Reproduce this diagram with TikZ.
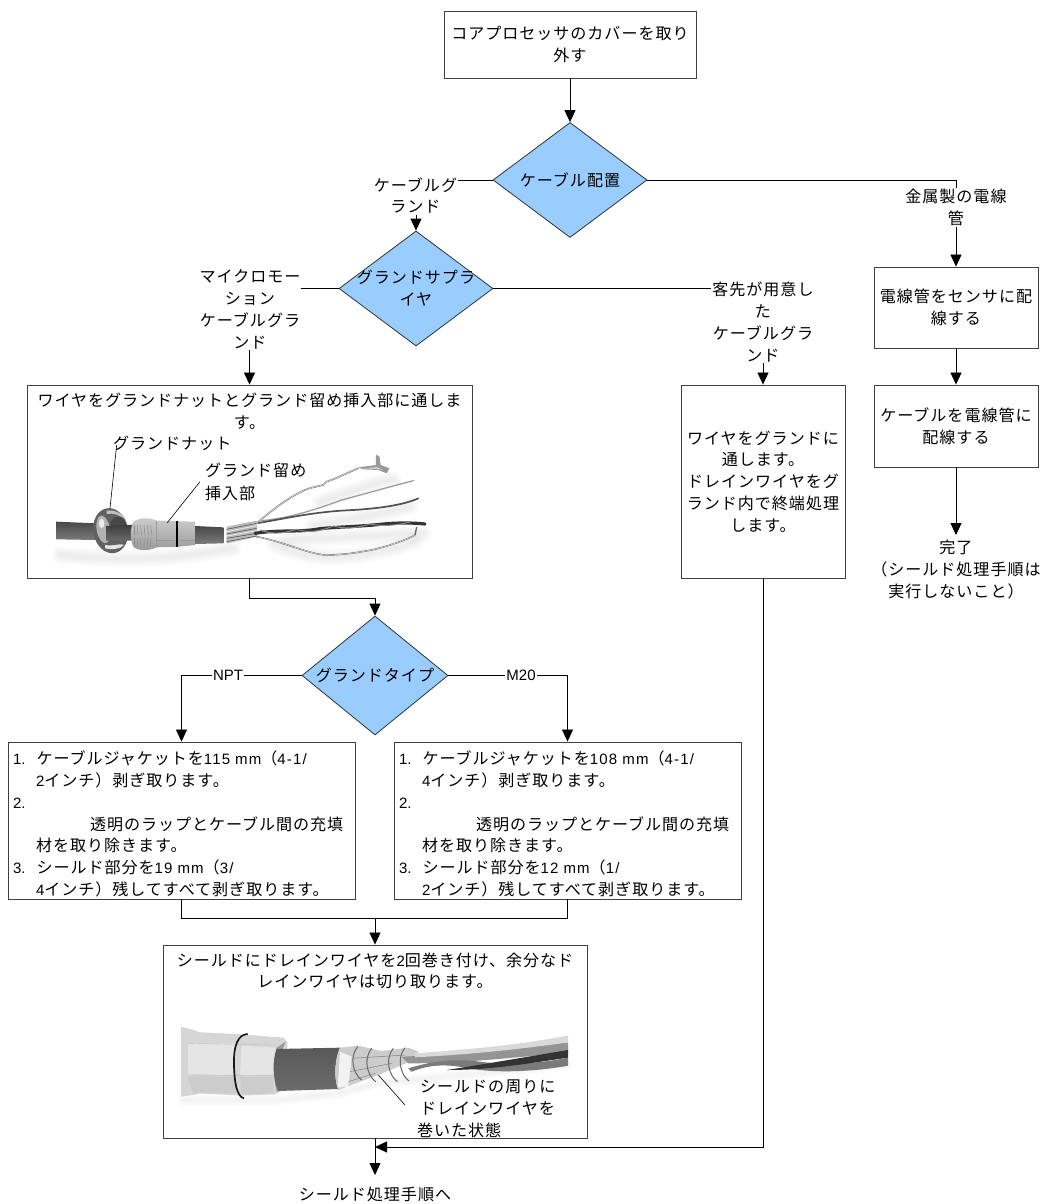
\documentclass[tikz,border=0pt]{standalone}
\usepackage{fontspec}
\usetikzlibrary{shapes.geometric,arrows.meta,calc}
\setmainfont{Liberation Sans}
\newfontfamily\jp[Scale=1.07,LetterSpace=6]{Noto Sans CJK JP}
\newfontfamily\lat[LetterSpace=8]{Liberation Sans}
\newcommand{\J}[1]{{\jp #1}}
\newcommand{\Lt}[1]{{\lat #1}}
\definecolor{dia}{HTML}{99CCFF}
\tikzset{
  txt/.style={font=\fontsize{15}{21.8}\selectfont,align=center,inner sep=0pt},
  lbl/.style={txt,fill=white,inner sep=1pt},
  boxn/.style={draw=black!75,line width=0.9pt,fill=white,inner sep=0pt,txt},
  dian/.style={diamond,draw=black!80,line width=0.8pt,fill=dia,inner sep=0pt},
  conn/.style={draw=black,line width=0.8pt,-{Triangle[length=12pt,width=11pt]}},
  plain/.style={draw=black,line width=0.8pt},
  callout/.style={draw=black,line width=0.6pt},
  wire/.style={line width=#1,line cap=round,line join=round},
  soft/.style={draw=black,opacity=0.012,line cap=round}
}
\begin{document}
\begin{tikzpicture}[x=1pt,y=-1pt]
\useasboundingbox (0,0) rectangle (1043,1204);
\fill[white] (0,0) rectangle (1043,1204);
% boxes
\node[boxn,minimum width=252pt,minimum height=67pt] (top) at (570,44.5) {\J{コアプロセッサのカバーを取り}\\\J{外す}};
\node[dian,minimum width=154pt,minimum height=115pt,aspect=1.339] (d1) at (570,180) {};
\node[txt] (d1t) at (570,180) {\J{ケーブル配置}};
\node[dian,minimum width=154pt,minimum height=115pt,aspect=1.339] (d2) at (416,288.5) {};
\node[txt] (d2t) at (416,288) {\J{グランドサプラ}\\\J{イヤ}};
\node[boxn,minimum width=445pt,minimum height=193pt] (b3) at (249.5,481.5) {};
\node[txt] (b3t) at (249.5,411) {\J{ワイヤをグランドナットとグランド留め挿入部に通しま}\\\J{す。}};
\node[boxn,minimum width=164pt,minimum height=193pt] (bc) at (763,481.5) {\J{ワイヤをグランドに}\\\J{通します。}\\\J{ドレインワイヤをグ}\\\J{ランド内で終端処理}\\\J{します。}};
\node[boxn,minimum width=164pt,minimum height=81pt] (m1) at (956,307.5) {\J{電線管をセンサに配}\\\J{線する}};
\node[boxn,minimum width=164pt,minimum height=82pt] (m2) at (956,426) {\J{ケーブルを電線管に}\\\J{配線する}};
\node[txt,anchor=north] (done) at (956,540) {\J{完了}\\\J{（シールド処理手順は}\\\J{実行しないこと）}};
\node[dian,minimum width=146pt,minimum height=119pt,aspect=1.227] (d3) at (375,675.5) {};
\node[txt] (d3t) at (375,675.5) {\J{グランドタイプ}};
\node[boxn,minimum width=347pt,minimum height=157pt] (bl) at (181.5,820.5) {};
\node[txt,text width=337pt,align=left] (blt) at (181.5,824) {%
1.\hspace{11pt}\J{ケーブルジャケットを}\Lt{115 mm}\J{（}\Lt{4-1/}\\
\hspace*{23pt}\Lt{2}\J{インチ）剥ぎ取ります。}\\
2.\\
\hspace*{77pt}\J{透明のラップとケーブル間の充填}\\
\hspace*{23pt}\J{材を取り除きます。}\\
3.\hspace{11pt}\J{シールド部分を}\Lt{19 mm}\J{（}\Lt{3/}\\
\hspace*{23pt}\Lt{4}\J{インチ）残してすべて剥ぎ取ります。}};
\node[boxn,minimum width=347pt,minimum height=157pt] (br) at (567.5,820.5) {};
\node[txt,text width=337pt,align=left] (brt) at (567.5,824) {%
1.\hspace{11pt}\J{ケーブルジャケットを}\Lt{108 mm}\J{（}\Lt{4-1/}\\
\hspace*{23pt}\Lt{4}\J{インチ）剥ぎ取ります。}\\
2.\\
\hspace*{77pt}\J{透明のラップとケーブル間の充填}\\
\hspace*{23pt}\J{材を取り除きます。}\\
3.\hspace{11pt}\J{シールド部分を}\Lt{12 mm}\J{（}\Lt{1/}\\
\hspace*{23pt}\Lt{2}\J{インチ）残してすべて剥ぎ取ります。}};
\node[boxn,minimum width=424pt,minimum height=193pt] (bb) at (375,1041.5) {};
\node[txt] (bbt) at (375,971) {\J{シールドにドレインワイヤを}\Lt{2}\J{回巻き付け、余分なド}\\\J{レインワイヤは切り取ります。}};
\node[txt,anchor=north] (fin) at (375,1187) {\J{シールド処理手順へ}};
% helper points
\coordinate (mrg) at (375,918);
\coordinate (mid3) at (375,598);
\coordinate (jn) at (375,1147);
\coordinate (finTip) at (375,1175);
\coordinate (doneTip) at (956,535);
% connectors
\draw[conn] (top.south) -- (d1.north);
\draw[conn] (d1.west) -| (d2.north);
\draw[conn] (d1.east) -| (m1.north);
\draw[conn] (d2.west) -| (b3.north);
\draw[conn] (d2.east) -| (bc.north);
\draw[conn] (m1.south) -- (m2.north);
\draw[conn] (m2.south) -- (doneTip);
\draw[plain] (b3.south) |- (mid3);
\draw[conn] (mid3) -- (d3.north);
\draw[conn] (d3.west) -| (bl.north);
\draw[conn] (d3.east) -| (br.north);
\draw[plain] (bl.south) |- (mrg);
\draw[plain] (br.south) |- (mrg);
\draw[conn] (mrg) -- (bb.north);
\draw[conn] (bb.south) -- (finTip);
\draw[conn] (bc.south) |- (jn);
% connector labels
\node[lbl] (l1) at (415.5,195.5) {\J{ケーブルグ}\\\J{ランド}};
\node[lbl] (l2) at (956,207.5) {\J{金属製の電線}\\\J{管}};
\node[lbl] (l3) at (250,309.5) {\J{マイクロモー}\\\J{ション}\\\J{ケーブルグラ}\\\J{ンド}};
\node[lbl] (l4) at (763,322) {\J{客先が用意し}\\\J{た}\\\J{ケーブルグラ}\\\J{ンド}};
\node[lbl] (l5) at (228,675) {NPT};
\node[lbl] (l6) at (521,675) {M20};
% photo 1: wires
\begin{scope}[shift={(20,370)},scale=0.33333]
\foreach \w in {3,6,9,12,15,18}{
 \draw[soft,line width=\w pt] (760,520) .. controls (860,575) and (1000,575) .. (1185,515);
 \draw[soft,line width=\w pt] (900,395) .. controls (1000,365) and (1100,325) .. (1120,330);
 \draw[soft,line width=\w pt] (880,465) .. controls (1000,450) and (1100,425) .. (1170,410);
 \draw[soft,line width=\w pt] (800,510) -- (1210,490);
 \draw[soft,line width=\w pt] (120,555) .. controls (300,570) and (400,575) .. (640,535);
}
\fill[black!28] (620,470) -- (710,452) -- (712,500) -- (620,520) -- cycle;
\draw[black!65,line width=0.6pt] (620,478) -- (710,460) (620,492) -- (710,475) (620,505) -- (710,490) (620,515) -- (710,498);
\draw[black!8,line width=0.8pt] (620,485) -- (710,467) (620,498) -- (710,482);
\draw[black!55,wire=1.6pt] (712,458) .. controls (780,400) and (840,360) .. (880,352) -- (910,345) -- (920,335) .. controls (950,325) and (990,305) .. (1015,295);
\draw[black!12,wire=0.6pt] (712,458) .. controls (780,400) and (840,360) .. (880,352) -- (910,345) -- (920,335) .. controls (950,325) and (990,305) .. (1015,295);
\fill[black!40] (1015,292) -- (1068,285) -- (1068,255) -- (1078,258) -- (1082,285) -- (1108,295) -- (1100,310) -- (1075,300) -- (1030,298) -- cycle;
\fill[black!12] (1030,295) -- (1070,292) -- (1090,300) -- (1070,296) -- cycle;
\draw[black!38,wire=1.3pt] (725,452) .. controls (800,445) and (870,425) .. (965,390) .. controls (1040,370) and (1110,350) .. (1180,332);
\draw[black!68,wire=1.7pt] (715,459) .. controls (800,445) and (880,425) .. (1000,420) .. controls (1080,415) and (1150,405) .. (1195,385);
\draw[black!60,wire=1.4pt] (710,500) .. controls (790,515) and (860,550) .. (915,555) .. controls (970,555) and (1010,548) .. (1055,540) .. controls (1100,530) and (1160,510) .. (1185,495) -- (1190,472);
\draw[black!8,wire=0.5pt] (710,500) .. controls (790,515) and (860,550) .. (915,555) .. controls (970,555) and (1010,548) .. (1055,540) .. controls (1100,530) and (1160,510) .. (1185,495);
\draw[black!80,wire=3.2pt] (705,490) .. controls (780,478) and (840,488) .. (900,476) .. controls (960,470) and (1020,470) .. (1090,462) .. controls (1130,458) and (1180,458) .. (1215,462);
\draw[black!45,wire=1pt] (720,480) .. controls (760,495) and (790,490) .. (830,478) .. controls (870,490) and (900,484) .. (940,468) .. controls (980,478) and (1010,474) .. (1050,462) .. controls (1090,470) and (1130,466) .. (1170,456);
\coordinate (c1a) at (290,225);
\coordinate (c1b) at (270,415);
\coordinate (c2a) at (540,335);
\coordinate (c2b) at (442,458);
\end{scope}
% photo 1: cable and gland
\begin{scope}[shift={(50,490)},scale=0.33333]
\shade[top color=black!72,bottom color=black!52] (18,95) -- (140,100) -- (140,150) -- (18,148) -- cycle;
\fill[black!62,rotate around={10:(182,122)}] (182,122) ellipse [x radius=52,y radius=68];
\fill[black!30,rotate around={10:(160,118)}] (160,118) ellipse [x radius=20,y radius=42];
\fill[black!8] (155,100) ellipse [x radius=8,y radius=14];
\fill[black!10] (165,175) .. controls (185,180) and (210,178) .. (222,165) .. controls (215,158) and (190,170) .. (165,165) -- cycle;
\fill[black!25] (170,62) .. controls (195,58) and (220,72) .. (228,90) .. controls (210,75) and (190,68) .. (170,72) -- cycle;
\fill[black!72,rotate around={10:(205,108)}] (205,108) ellipse [x radius=24,y radius=28];
\shade[top color=black!76,bottom color=black!58] (168,108) -- (250,104) -- (250,152) -- (168,152) -- cycle;
\shade[top color=black!20,middle color=black!30,bottom color=black!40] (250,95) .. controls (270,82) and (300,82) .. (320,92) -- (435,95) -- (435,165) -- (385,170) -- (320,172) .. controls (300,182) and (265,185) .. (250,170) .. controls (240,150) and (240,115) .. (250,95) -- cycle;
\foreach \r/\s in {252/0,262/3,272/5,282/6,292/7,302/8}{\draw[black!45,line width=0.5pt] (\r,105) -- (\r+\s/2,135) (\r,145) -- (\r,170);}
\draw[black!40,line width=0.4pt] (320,92) -- (320,172) (320,150) -- (375,150) (390,150) -- (435,150);
\draw[black,line width=1.3pt] (381,92) -- (381,170);
\shade[top color=black!72,bottom color=black!52] (435,108) -- (520,112) -- (520,160) -- (435,162) -- cycle;
\end{scope}
\draw[callout] (c1a) -- (c1b);
\draw[callout] (c2a) -- (c2b);
\node[txt,anchor=west] (p1a) at (113,443) {\J{グランドナット}};
\node[txt,anchor=west] (p1b) at (205,470) {\J{グランド留め}};
\node[txt,anchor=west] (p1c) at (205,493) {\J{挿入部}};
% photo 2
\begin{scope}[shift={(175,1025)},scale=0.33333]
\foreach \w in {3,6,9,12}{
 \draw[soft,line width=\w pt] (25,225) -- (300,225) -- (490,205) -- (600,175) -- (1175,120);
}
\fill[black!16] (18,5) -- (55,15) -- (75,22) -- (200,28) -- (325,38) -- (338,52) -- (325,195) -- (300,208) -- (200,212) -- (75,205) -- (55,210) -- (18,215) -- cycle;
\fill[black!10] (40,55) -- (182,55) -- (180,150) -- (38,148) -- cycle;
\fill[black!10] (200,62) -- (300,68) -- (295,150) -- (195,150) -- cycle;
\fill[black!20] (38,155) -- (180,155) -- (185,205) -- (55,205) -- cycle;
\fill[black!20] (195,155) -- (295,155) -- (295,205) -- (200,208) -- cycle;
\draw[black!25,line width=0.4pt] (40,55) -- (300,60) (38,150) -- (295,152);
\fill[black!40] (305,68) .. controls (298,100) and (295,170) .. (305,200) -- (328,195) -- (300,130) -- (332,50) -- cycle;
\draw[black!90,line width=1.7pt] (218,27) .. controls (190,28) and (175,60) .. (177,120) .. controls (178,170) and (185,215) .. (207,220);
\shade[top color=black!65,middle color=black!52,bottom color=black!58] (305,72) -- (495,68) .. controls (480,100) and (475,160) .. (490,192) -- (310,198) .. controls (292,160) and (292,105) .. (305,72) -- cycle;
\fill[black!20] (495,68) -- (550,62) -- (620,78) -- (700,68) -- (730,80) -- (700,112) -- (610,150) -- (550,172) -- (490,195) .. controls (475,160) and (480,100) .. (495,68) -- cycle;
\fill[black!5] (495,80) -- (530,95) -- (520,185) -- (488,188) -- cycle;
\foreach \q/\l in {548/65,590/70,655/70,690/68}{\draw[black!60,line width=1pt] (\q,\l) .. controls (\q-25,\l+30) and (\q-15,\l+80) .. (\q+12,\l+100);}
\draw[black!50,line width=0.5pt] (530,100) -- (690,90) (525,140) -- (650,115) (520,170) -- (600,145);
% wires
\fill[black!42] (680,95) .. controls (800,90) and (950,80) .. (1179,52) -- (1179,82) .. controls (1000,100) and (850,115) .. (700,115) -- cycle;
\fill[black!15] (720,85) .. controls (850,75) and (1000,65) .. (1179,32) -- (1179,52) .. controls (1000,78) and (850,90) .. (720,97) -- cycle;
\fill[black!52] (700,130) .. controls (780,105) and (850,100) .. (930,112) .. controls (1000,120) and (1100,115) .. (1179,98) -- (1179,122) .. controls (1080,140) and (960,145) .. (880,130) .. controls (810,115) and (760,120) .. (710,140) -- cycle;
\fill[black!80] (815,135) .. controls (900,122) and (1000,105) .. (1179,75) -- (1179,98) .. controls (1060,115) and (950,135) .. (815,135) -- cycle;
\coordinate (c3a) at (610,150);
\coordinate (c3b) at (690,240);
\end{scope}
\draw[callout] (c3a) -- (c3b);
\node[txt,anchor=west] (p2a) at (420,1087) {\J{シールドの周りに}};
\node[txt,anchor=west] (p2b) at (420,1108.5) {\J{ドレインワイヤを}};
\node[txt,anchor=west] (p2c) at (417,1130) {\J{巻いた状態}};
\end{tikzpicture}
\end{document}
